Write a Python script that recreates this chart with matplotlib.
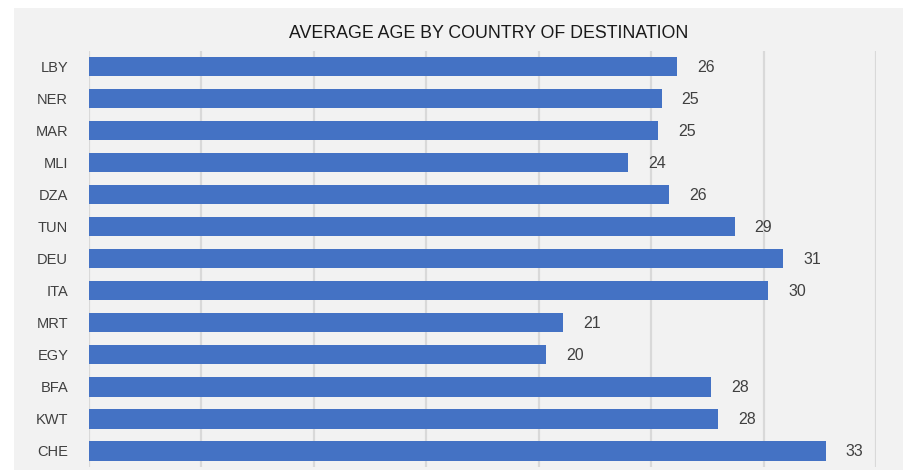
import matplotlib
matplotlib.use("Agg")
import matplotlib.pyplot as plt
from matplotlib.patches import Rectangle

countries = ["LBY", "NER", "MAR", "MLI", "DZA", "TUN", "DEU",
             "ITA", "MRT", "EGY", "BFA", "KWT", "CHE"]
avg_age = [26.14, 25.47, 25.31, 23.98, 25.79, 28.71, 30.87,
           30.2, 21.09, 20.33, 27.67, 27.99, 32.77]

plt.rcParams['font.family'] = ['Liberation Sans', 'DejaVu Sans']

W, H = 904, 470
fig = plt.figure(figsize=(W / 100, H / 100), dpi=100)
fig.patch.set_facecolor("white")

# grey chart area, kept behind the axes
fig.patches.append(Rectangle((14 / W, 0), 1 - 14 / W, 1 - 8 / H,
                             transform=fig.transFigure, facecolor="#f2f2f2",
                             edgecolor="none", zorder=-5))

ax = fig.add_axes([89 / W, 1 - 467 / H, (876 - 89) / W, (467 - 50.5) / H])
ax.set_facecolor("none")
ax.set_zorder(1)

y = range(len(countries))
ax.barh(y, avg_age, height=0.6, color="#4472c4", zorder=3)

ax.set_xlim(0, 35)
ax.set_ylim(len(countries) - 0.5, -0.5)
ax.set_xticks(range(0, 36, 5))
ax.xaxis.grid(True, color="#d9d9d9", linewidth=1.6, zorder=1)
ax.set_axisbelow(True)
ax.tick_params(axis="x", length=0, labelbottom=False)
ax.tick_params(axis="y", length=0, pad=15, labelsize=10.5, labelcolor="#404040")
ax.set_yticks(list(y))
ax.set_yticklabels(countries)
for s in ax.spines.values():
    s.set_visible(False)

for i, v in enumerate(avg_age):
    ax.annotate(f"{v:.0f}", xy=(v, i), xytext=(20, -1), textcoords="offset pixels",
                va="center", ha="left", fontsize=11.5, color="#404040")

fig.text(489 / W, 1 - 34 / H, "AVERAGE AGE BY COUNTRY OF DESTINATION",
         ha="center", va="center", fontsize=12.8, color="#1a1a1a")

fig.savefig("out.png", dpi=100, facecolor=fig.get_facecolor())
